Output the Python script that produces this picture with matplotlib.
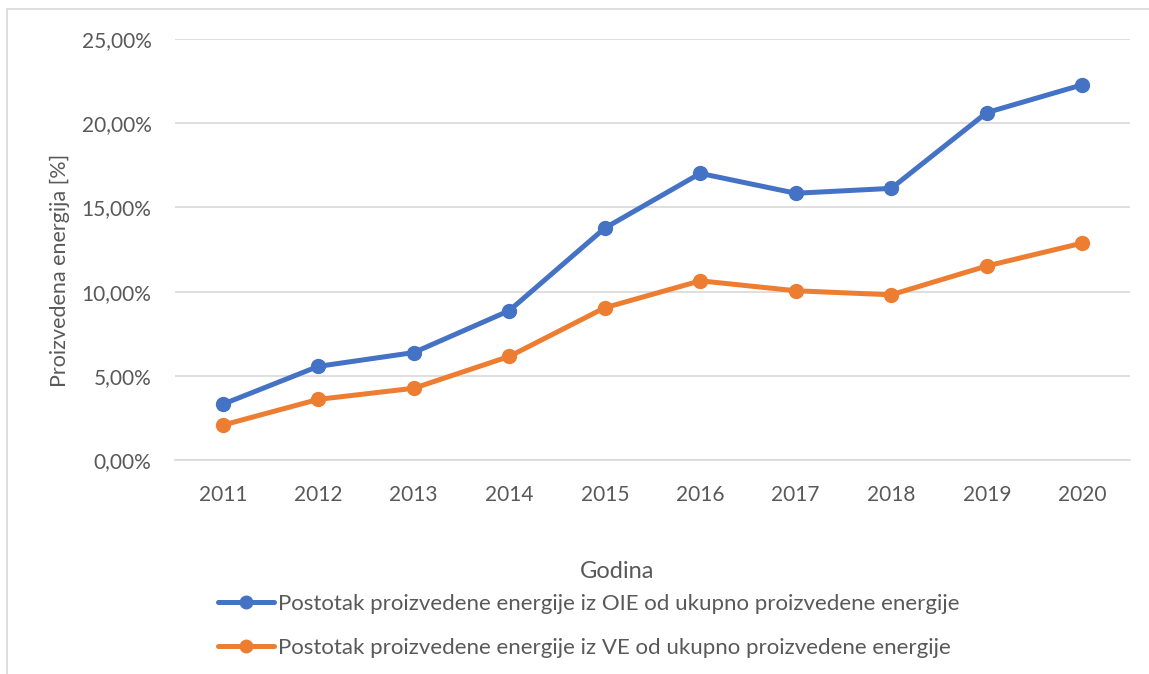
import matplotlib
matplotlib.use("Agg")
import matplotlib.pyplot as plt
from matplotlib.patches import Rectangle
from matplotlib.ticker import FuncFormatter

years = ["2011", "2012", "2013", "2014", "2015", "2016", "2017", "2018", "2019", "2020"]
oie = [3.31, 5.56, 6.38, 8.87, 13.77, 17.02, 15.84, 16.13, 20.63, 22.28]
ve = [2.07, 3.60, 4.26, 6.15, 9.04, 10.64, 10.05, 9.81, 11.52, 12.88]
label_oie = "Postotak proizvedene energije iz OIE od ukupno proizvedene energije"
label_ve = "Postotak proizvedene energije iz VE od ukupno proizvedene energije"

plt.rcParams['font.family'] = ['Lato', 'DejaVu Sans']
txt = '#595959'

W, H = 1149, 674
fig = plt.figure(figsize=(W / 100, H / 100), dpi=100)
ax = fig.add_axes([175 / W, 1 - 460 / H, (1130 - 175) / W, (460 - 39) / H])

x = list(range(len(years)))
l1, = ax.plot(x, oie, color='#4472C4', lw=3.6, marker='o', ms=10, label=label_oie, solid_capstyle='round')
l2, = ax.plot(x, ve, color='#ED7D31', lw=3.6, marker='o', ms=10, label=label_ve, solid_capstyle='round')

ax.set_xlim(-0.5, len(years) - 0.5)
ax.set_ylim(0, 25)
ax.set_yticks([0, 5, 10, 15, 20, 25])
ax.yaxis.set_major_formatter(FuncFormatter(lambda v, p: f"{v:.2f}".replace('.', ',') + '%'))
ax.set_xticks(x)
ax.set_xticklabels(years)
ax.grid(axis='y', color='#D9D9D9', lw=1.2)
ax.set_axisbelow(True)
for s in ['top', 'right', 'left']:
    ax.spines[s].set_visible(False)
ax.spines['bottom'].set_color('#D9D9D9')
ax.spines['bottom'].set_linewidth(1.2)
ax.tick_params(axis='both', length=0, labelsize=15, colors=txt)
ax.tick_params(axis='y', pad=17)
ax.tick_params(axis='x', pad=18)

fig.text(60 / W, 1 - 270 / H, "Proizvedena energija [%]", rotation=90, ha='center', va='center',
         fontsize=15.5, color=txt)
fig.text(617 / W, 1 - 572 / H, "Godina", ha='center', va='center', fontsize=17, color=txt)

leg = fig.legend(handles=[l1, l2], loc='upper left', bbox_to_anchor=(218 / W, 1 - 594 / H),
                 frameon=False, fontsize=16, labelcolor=txt, handlelength=2.5, handletextpad=0.2,
                 labelspacing=1.08, borderpad=0, borderaxespad=0)
for h in leg.legend_handles:
    h.set_markersize(9)

fig.patches.append(Rectangle((7 / W, -0.1), 1.2, 1 - 9 / H + 0.1, transform=fig.transFigure,
                             fill=False, edgecolor='#D9D9D9', lw=1.2))

fig.savefig("out.png", dpi=100, facecolor='white')
